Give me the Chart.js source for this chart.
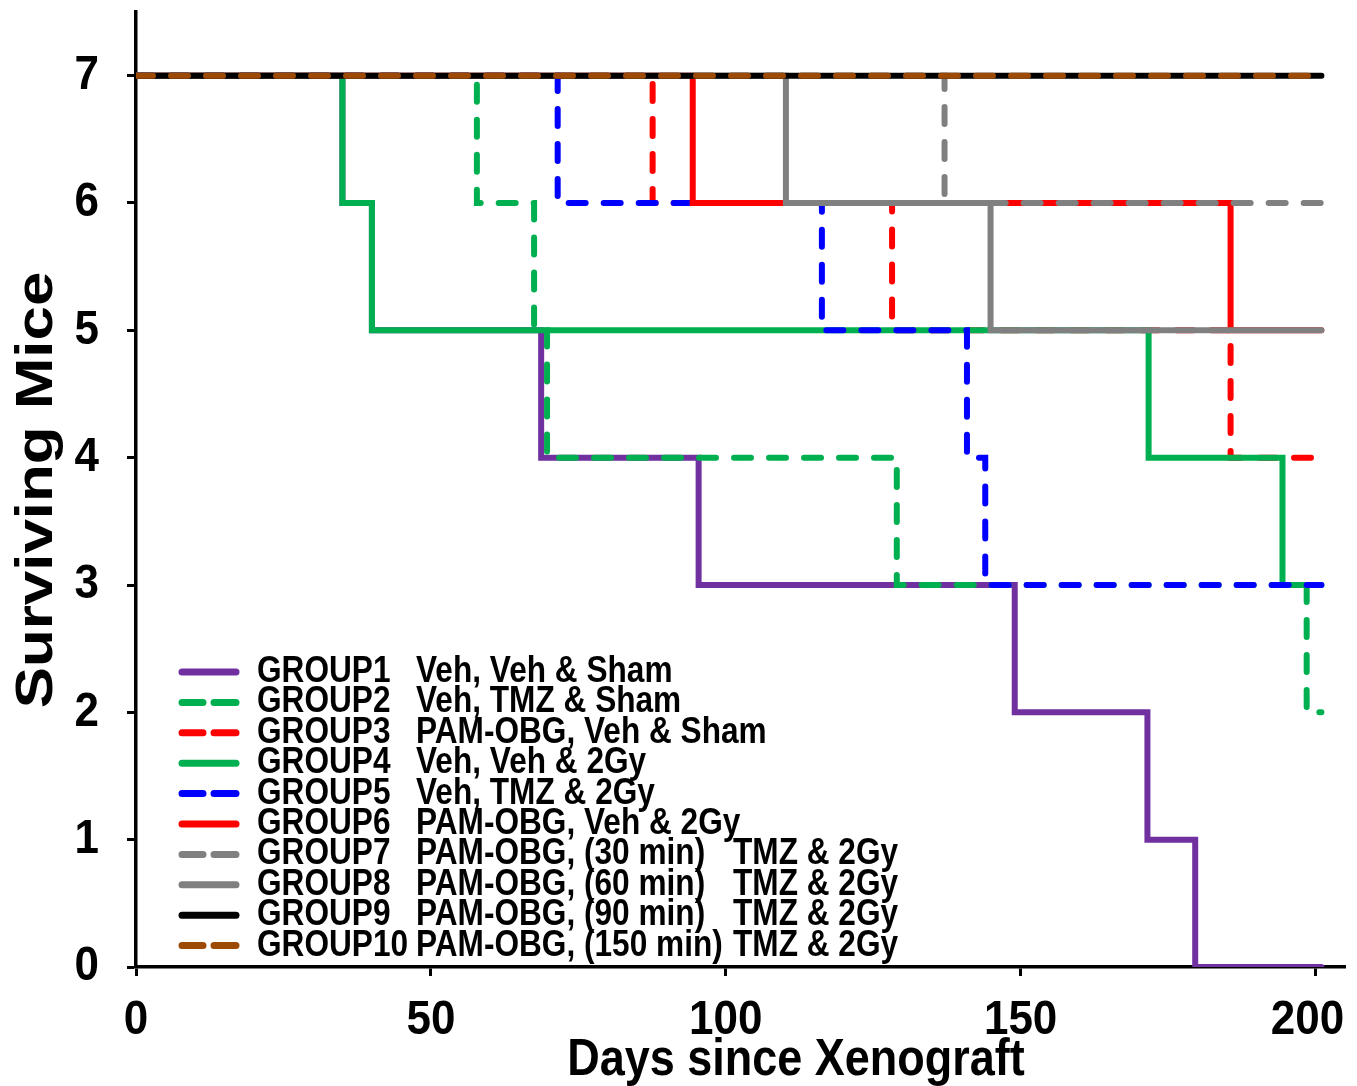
<!DOCTYPE html>
<html>
<head>
<meta charset="utf-8">
<script src="https://cdn.jsdelivr.net/npm/chart.js@4.4.1/dist/chart.umd.min.js"></script>
<style>
  html, body { margin: 0; padding: 0; background: #fff; }
</style>
</head>
<body>
<canvas id="survivalChart" width="1357" height="1086"></canvas>
<script>
// groups and treatment text
const groupNames = ['GROUP1', 'GROUP2', 'GROUP3', 'GROUP4', 'GROUP5',
                    'GROUP6', 'GROUP7', 'GROUP8', 'GROUP9', 'GROUP10'];
const treatments = ['Veh, Veh & Sham', 'Veh, TMZ & Sham', 'PAM-OBG, Veh & Sham',
                    'Veh, Veh & 2Gy', 'Veh, TMZ & 2Gy', 'PAM-OBG, Veh & 2Gy',
                    'PAM-OBG, (30 min)', 'PAM-OBG, (60 min)', 'PAM-OBG, (90 min)',
                    'PAM-OBG, (150 min)'];
const extraText = ['', '', '', '', '', '', 'TMZ & 2Gy', 'TMZ & 2Gy', 'TMZ & 2Gy', 'TMZ & 2Gy'];

// survival steps: day of each change and the number of mice left after it
const g1Days = [0, 35, 40, 68.7, 95.4, 149, 171.5, 179.6, 201];
const g1Mice = [7, 6, 5, 4, 3, 2, 1, 0, 0];
const g2Days = [0, 57.8, 67.5, 69.7, 129, 198.5, 201];
const g2Mice = [7, 6, 5, 4, 3, 2, 2];
const g3Days = [0, 87.6, 128.2, 185.6, 201];
const g3Mice = [7, 6, 5, 4, 4];
const g4Days = [0, 35, 40, 171.7, 194.4, 201];
const g4Mice = [7, 6, 5, 4, 3, 3];
const g5Days = [0, 71.5, 116.3, 140.9, 144, 201];
const g5Mice = [7, 6, 5, 4, 3, 3];
const g6Days = [0, 94.4, 185.6, 201];
const g6Mice = [7, 6, 5, 5];
const g7Days = [0, 137.1, 201];
const g7Mice = [7, 6, 6];
const g8Days = [0, 110.2, 144.9, 201];
const g8Mice = [7, 6, 5, 5];
const g9Days = [0, 201];
const g9Mice = [7, 7];
const g10Days = [0, 201];
const g10Mice = [7, 7];

const xTicks = [0, 50, 100, 150, 200];
const yTicks = [0, 1, 2, 3, 4, 5, 6, 7];

const allDays = [g1Days, g2Days, g3Days, g4Days, g5Days, g6Days, g7Days, g8Days, g9Days, g10Days];
const allMice = [g1Mice, g2Mice, g3Mice, g4Mice, g5Mice, g6Mice, g7Mice, g8Mice, g9Mice, g10Mice];

// look of each group (colour, dashed or not, draw order: lower = on top)
const colors = ['#7030A0', '#00B050', '#FF0000', '#00B050', '#0000FF',
                '#FF0000', '#808080', '#808080', '#000000', '#9C4A06'];
const dashed = [false, true, true, false, true, false, true, false, false, true];
const drawOrder = [9, 6, 8, 7, 5, 4, 2, 3, 1, 0];

const FONT = '"Liberation Sans", Arial, sans-serif';

function drawText(ctx, text, x, y, size, align, sx, sy, rot) {
  ctx.save();
  ctx.translate(x, y);
  if (rot) ctx.rotate(rot);
  ctx.scale(sx, sy);
  ctx.font = 'bold ' + size + 'px ' + FONT;
  ctx.fillStyle = '#000';
  ctx.textAlign = align;
  ctx.textBaseline = 'middle';
  ctx.fillText(text, 0, 0);
  ctx.restore();
}

const datasets = groupNames.map((name, i) => ({
  label: name,
  data: allDays[i].map((d, k) => ({ x: d, y: allMice[i][k] })),
  borderColor: colors[i],
  backgroundColor: colors[i],
  borderWidth: 6,
  borderDash: dashed[i] ? [17, 18] : [],
  borderCapStyle: 'round',
  borderJoinStyle: 'miter',
  stepped: 'before',
  pointRadius: 0,
  fill: false,
  order: drawOrder[i]
}));

// tick labels, axis titles and the legend block
const textPlugin = {
  id: 'textPlugin',
  afterDraw(chart) {
    const ctx = chart.ctx;
    const xs = chart.scales.x, ys = chart.scales.y;
    xTicks.forEach(v => drawText(ctx, String(v), xs.getPixelForValue(v) - (v === 200 ? 8 : 0), 1021, 40, 'center', 1.1, 1.2));
    yTicks.forEach(v => drawText(ctx, String(v), 99, ys.getPixelForValue(v), 40, 'right', 1.1, 1.2));
    drawText(ctx, 'Days since Xenograft', 796, 1061, 45, 'center', 1, 1.15);
    drawText(ctx, 'Surviving Mice', 38, 490, 52, 'center', 1.19, 1, -Math.PI / 2);

    groupNames.forEach((name, i) => {
      const y = 672 + i * 30.4;
      ctx.save();
      ctx.strokeStyle = colors[i];
      ctx.lineWidth = 7;
      ctx.lineCap = 'round';
      ctx.beginPath();
      if (dashed[i]) {
        ctx.moveTo(182, y); ctx.lineTo(203, y);
        ctx.moveTo(214, y); ctx.lineTo(236, y);
      } else {
        ctx.moveTo(182, y); ctx.lineTo(236, y);
      }
      ctx.stroke();
      ctx.restore();
      drawText(ctx, name, 257, y, 29, 'left', 1.09, 1.25);
      drawText(ctx, treatments[i], 416, y, 29, 'left', 1.09, 1.25);
      if (extraText[i]) drawText(ctx, extraText[i], 733, y, 29, 'left', 1.09, 1.25);
    });
  }
};

new Chart(document.getElementById('survivalChart'), {
  type: 'line',
  data: { datasets: datasets },
  options: {
    responsive: false,
    animation: false,
    layout: { padding: { top: 12, right: 12, left: 0, bottom: 0 } },
    plugins: { legend: { display: false }, tooltip: { enabled: false } },
    scales: {
      x: {
        type: 'linear',
        min: 0,
        max: 205,
        afterBuildTicks: (scale) => { scale.ticks = xTicks.map(v => ({ value: v })); },
        afterFit: (scale) => { scale.height = 119; },
        ticks: { display: false },
        grid: { display: true, drawOnChartArea: false, drawTicks: true, tickLength: 9, tickWidth: 3, tickColor: '#000' },
        border: { display: true, color: '#000', width: 3.5 }
      },
      y: {
        type: 'linear',
        min: 0,
        max: 7.5,
        afterBuildTicks: (scale) => { scale.ticks = yTicks.map(v => ({ value: v })); },
        afterFit: (scale) => { scale.width = 136; },
        ticks: { display: false },
        grid: { display: true, drawOnChartArea: false, drawTicks: true, tickLength: 9, tickWidth: 3, tickColor: '#000' },
        border: { display: true, color: '#000', width: 3.5 }
      }
    }
  },
  plugins: [textPlugin]
});
</script>
</body>
</html>
